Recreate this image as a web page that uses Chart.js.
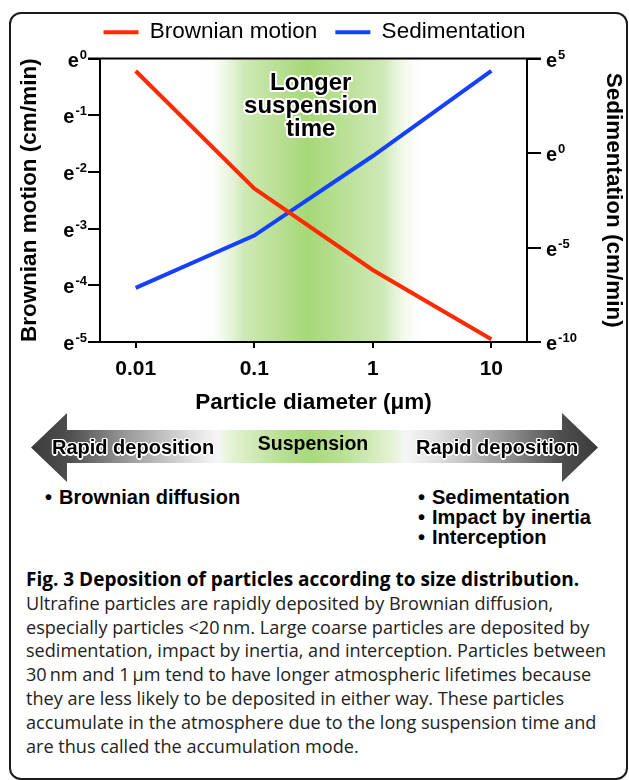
<!DOCTYPE html>
<html>
<head>
<meta charset="utf-8">
<script src="https://cdn.jsdelivr.net/npm/chart.js@4.4.1/dist/chart.umd.min.js"></script>
<style>
  body { margin: 0; background: #fff; }
  #fig { position: relative; width: 629px; height: 780px; overflow: hidden; font-family: "Liberation Sans", Arial, sans-serif; color: #000; }
  #frame { position: absolute; left: 9px; top: 12px; width: 619px; height: 768px; border: 2px solid #1b1b1b; border-radius: 12px; box-sizing: border-box; }
  #chartBox { position: absolute; left: 0; top: 0; width: 629px; height: 420px; }
  #arrow { position: absolute; left: 31px; top: 413px; width: 567px; height: 69px;
    clip-path: polygon(0 34.5px, 36px 0, 36px 17px, 531px 17px, 531px 0, 567px 34.5px, 531px 69px, 531px 50px, 36px 50px, 36px 69px);
    background: linear-gradient(to right, #3a3a3a 0%, #505050 7%, #9a9a9a 17%, #dedede 28%, #f6f6f6 33%, #e6f3d8 35%, #b9e093 44%, #a8d97c 49%, #b9e093 55%, #e6f3d8 64%, #f6f6f6 66%, #dedede 72%, #9a9a9a 83%, #505050 93%, #3a3a3a 100%); }
  .tag { position: absolute; font-weight: bold; font-size: 20px; white-space: nowrap;
    text-shadow: -1.5px 0 #fff, 1.5px 0 #fff, 0 -1.5px #fff, 0 1.5px #fff, -1px -1px #fff, 1px 1px #fff, -1px 1px #fff, 1px -1px #fff; }
  .list { position: absolute; font-weight: bold; font-size: 20px; line-height: 20px; white-space: nowrap; }
  .list span { display: inline-block; width: 14px; }
  #caption { position: absolute; left: 26px; top: 568px; width: 600px; font-family: "Open Sans", sans-serif; font-size: 18.1px; line-height: 23.8px; color: #222; white-space: nowrap; }
  #caption b { color: #000; font-size: 19px; }
</style>
</head>
<body>
<div id="fig">
  <div id="frame"></div>
  <div id="chartBox"><canvas id="depositionChart" width="629" height="420"></canvas></div>
  <div id="arrow"></div>
  <div class="tag" style="left:52px; top:436px;">Rapid deposition</div>
  <div class="tag" style="left:213px; width:200px; text-align:center; top:432px; font-size:19.5px; text-shadow:none;">Suspension</div>
  <div class="tag" style="left:416px; top:436px;">Rapid deposition</div>
  <div class="list" style="left:45px; top:487px;"><span>•</span>Brownian diffusion</div>
  <div class="list" style="left:418px; top:487px;"><span>•</span>Sedimentation<br><span>•</span>Impact by inertia<br><span>•</span>Interception</div>
  <div id="caption"><b>Fig. 3 Deposition of particles according to size distribution.</b><br>Ultrafine particles are rapidly deposited by Brownian diffusion,<br>especially particles &lt;20&#8201;nm. Large coarse particles are deposited by<br>sedimentation, impact by inertia, and interception. Particles between<br>30&#8201;nm and 1&#8201;μm tend to have longer atmospheric lifetimes because<br>they are less likely to be deposited in either way. These particles<br>accumulate in the atmosphere due to the long suspension time and<br>are thus called the accumulation mode.</div>
</div>
<script>
// Daten: Partikeldurchmesser (µm) und Exponenten zur Basis e
const diameters = [0.01, 0.1, 1, 10];
const brownianExp = [-0.22, -2.29, -3.73, -4.95];
const sedimentationExp = [-7.14, -4.37, -0.16, 4.34];
const xTickValues = [0.01, 0.1, 1, 10];
const leftExpTicks = [0, -1, -2, -3, -4, -5];
const rightExpTicks = [5, 0, -5, -10];
const suspensionBand = [0.035, 0.28, 2.8]; // Anfang, Maximum, Ende
const bandLabel = ['Longer', 'suspension', 'time'];

const FONT = '"Liberation Sans", Arial, sans-serif';

// grüner Bereich hinter den Linien
const bandPlugin = {
    id: 'band',
    beforeInit(chart) {
        // etwas Abstand unter der Legende
        const fit = chart.legend.fit;
        chart.legend.fit = function() { fit.call(this); this.height += 5; };
    },
    beforeDraw(chart) {
        const { ctx, chartArea: a, scales: { x } } = chart;
        const x0 = x.getPixelForValue(suspensionBand[0]);
        const xp = x.getPixelForValue(suspensionBand[1]);
        const x1 = x.getPixelForValue(suspensionBand[2]);
        const p = (xp - x0) / (x1 - x0);
        const g = ctx.createLinearGradient(x0, 0, x1, 0);
        g.addColorStop(0, 'rgba(255,255,255,0)');
        g.addColorStop(p * 0.4, 'rgba(207,233,183,1)');
        g.addColorStop(p, 'rgba(166,216,119,1)');
        g.addColorStop(p + (1 - p) * 0.65, 'rgba(207,233,183,1)');
        g.addColorStop(1, 'rgba(255,255,255,0)');
        ctx.save();
        ctx.fillStyle = g;
        ctx.fillRect(x0, a.top, x1 - x0, a.bottom - a.top);
        ctx.restore();
    }
};

function drawPower(ctx, x, y, exp, alignRight) {
    ctx.font = 'bold 20px ' + FONT;
    const bw = ctx.measureText('e').width;
    ctx.font = 'bold 13px ' + FONT;
    const ew = ctx.measureText(String(exp)).width;
    const left = alignRight ? x - bw - ew - 1 : x;
    ctx.textAlign = 'left';
    ctx.textBaseline = 'alphabetic';
    ctx.font = 'bold 20px ' + FONT;
    ctx.fillText('e', left, y + 8);
    ctx.font = 'bold 13px ' + FONT;
    ctx.fillText(String(exp), left + bw + 1, y);
}

// Beschriftungen: e-Potenzen, obere Rahmenlinie, Text im grünen Bereich
const labelPlugin = {
    id: 'labels',
    afterDraw(chart) {
        const { ctx, chartArea: a, scales } = chart;
        ctx.save();
        ctx.fillStyle = '#000';
        leftExpTicks.forEach(v => drawPower(ctx, scales.y.right - 13, scales.y.getPixelForValue(v), v, true));
        rightExpTicks.forEach(v => drawPower(ctx, scales.y2.left + 19, scales.y2.getPixelForValue(v), v, false));

        ctx.strokeStyle = '#000';
        ctx.lineWidth = 2;
        ctx.beginPath();
        ctx.moveTo(a.left - 12, a.top);
        ctx.lineTo(a.right + 14, a.top);
        ctx.stroke();

        const cx = scales.x.getPixelForValue(0.3);
        ctx.font = 'bold 24px ' + FONT;
        ctx.textAlign = 'center';
        ctx.textBaseline = 'middle';
        ctx.lineJoin = 'round';
        ctx.strokeStyle = '#fff';
        ctx.lineWidth = 4;
        bandLabel.forEach((t, i) => {
            const y = a.top + 25 + i * 23;
            ctx.strokeText(t, cx, y);
            ctx.fillText(t, cx, y);
        });
        ctx.restore();
    }
};

const ctx = document.getElementById('depositionChart').getContext('2d');
new Chart(ctx, {
    type: 'line',
    data: {
        datasets: [{
            label: 'Brownian motion',
            data: diameters.map((d, i) => ({ x: d, y: brownianExp[i] })),
            borderColor: '#ff2a00',
            backgroundColor: '#ff2a00',
            borderWidth: 4,
            pointRadius: 0,
            tension: 0,
            yAxisID: 'y'
        }, {
            label: 'Sedimentation',
            data: diameters.map((d, i) => ({ x: d, y: sedimentationExp[i] })),
            borderColor: '#1440ff',
            backgroundColor: '#1440ff',
            borderWidth: 4,
            pointRadius: 0,
            tension: 0,
            yAxisID: 'y2'
        }]
    },
    options: {
        responsive: false,
        animation: false,
        layout: { padding: { top: 3, left: 0, right: 0, bottom: 4 } },
        plugins: {
            tooltip: { enabled: false },
            legend: {
                position: 'top',
                labels: {
                    usePointStyle: true,
                    pointStyle: 'line',
                    pointStyleWidth: 35,
                    boxWidth: 35,
                    boxHeight: 10,
                    padding: 18,
                    color: '#000',
                    font: { family: FONT, size: 22.5 }
                }
            }
        },
        scales: {
            x: {
                type: 'logarithmic',
                min: 0.005,
                max: 20,
                afterBuildTicks: s => { s.ticks = xTickValues.map(v => ({ value: v })); },
                afterFit: s => { s.height = 74; },
                ticks: {
                    color: '#000',
                    padding: 9,
                    font: { family: FONT, size: 21, weight: 'bold' },
                    callback: v => String(v)
                },
                grid: { drawOnChartArea: false, tickLength: 6, color: '#000', lineWidth: 2 },
                border: { color: '#000', width: 2 },
                title: {
                    display: true,
                    text: 'Particle diameter (μm)',
                    color: '#000',
                    padding: { top: 0, bottom: 0 },
                    font: { family: FONT, size: 22.5, weight: 'bold' }
                }
            },
            y: {
                type: 'linear',
                position: 'left',
                min: -5,
                max: 0,
                afterBuildTicks: s => { s.ticks = leftExpTicks.map(v => ({ value: v })); },
                afterFit: s => { s.width = 100; },
                ticks: { display: false },
                grid: { drawOnChartArea: false, tickLength: 12, color: '#000', lineWidth: 2 },
                border: { color: '#000', width: 2 },
                title: {
                    display: true,
                    text: 'Brownian motion (cm/min)',
                    color: '#000',
                    padding: { top: 16, bottom: 0 },
                    font: { family: FONT, size: 22.5, weight: 'bold' }
                }
            },
            y2: {
                type: 'linear',
                position: 'right',
                min: -10,
                max: 5,
                afterBuildTicks: s => { s.ticks = rightExpTicks.map(v => ({ value: v })); },
                afterFit: s => { s.width = 102; },
                ticks: { display: false },
                grid: { drawOnChartArea: false, tickLength: 14, color: '#000', lineWidth: 2 },
                border: { color: '#000', width: 2 },
                title: {
                    display: true,
                    text: 'Sedimentation (cm/min)',
                    color: '#000',
                    padding: { top: 2, bottom: 0 },
                    font: { family: FONT, size: 22.5, weight: 'bold' }
                }
            }
        }
    },
    plugins: [bandPlugin, labelPlugin]
});
</script>
</body>
</html>
